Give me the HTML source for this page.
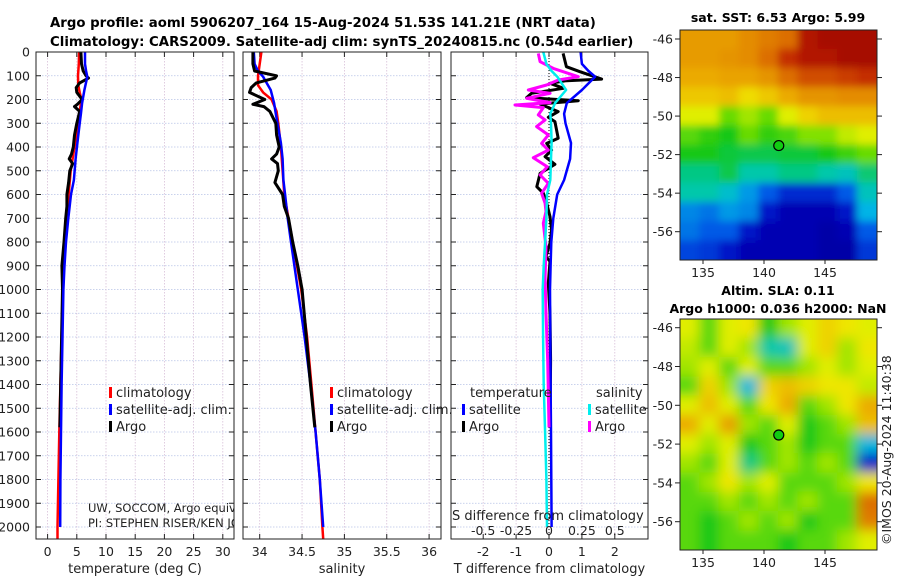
<!DOCTYPE html>
<html><head><meta charset="utf-8">
<style>
html,body{margin:0;padding:0;background:#fff;}
svg{display:block;font-family:"DejaVu Sans","Liberation Sans",sans-serif;}
</style></head>
<body>
<svg id="fig" width="900" height="580" viewBox="0 0 900 580" xmlns="http://www.w3.org/2000/svg">
<defs>
<clipPath id="c1"><rect x="36" y="52" width="198" height="487"/></clipPath>
<clipPath id="c2"><rect x="243" y="52" width="198" height="487"/></clipPath>
<clipPath id="c3"><rect x="451" y="52" width="197" height="487"/></clipPath>
<clipPath id="c4"><rect x="680" y="30" width="197" height="230"/></clipPath>
<clipPath id="c5"><rect x="680" y="319" width="197" height="231"/></clipPath>
<filter id="blur" x="-5%" y="-5%" width="110%" height="110%"><feGaussianBlur stdDeviation="6"/></filter>
<filter id="blur2" x="-5%" y="-5%" width="110%" height="110%"><feGaussianBlur stdDeviation="4"/></filter>
</defs>
<text x="50" y="27" font-size="13.3" font-weight="bold">Argo profile: aoml 5906207_164 15-Aug-2024 51.53S 141.21E (NRT data)</text>
<text x="50" y="46" font-size="13.3" font-weight="bold">Climatology: CARS2009. Satellite-adj clim: synTS_20240815.nc (0.54d earlier)</text>
<text x="778" y="22" font-size="12.5" font-weight="bold" text-anchor="middle">sat. SST: 6.53 Argo: 5.99</text>
<text x="778" y="295" font-size="12.5" font-weight="bold" text-anchor="middle">Altim. SLA: 0.11</text>
<text x="778" y="313" font-size="12.5" font-weight="bold" text-anchor="middle">Argo h1000: 0.036 h2000: NaN</text>
<text transform="translate(891,545) rotate(-90)" font-size="12.5" fill="#222">©IMOS 20-Aug-2024 11:40:38</text>
<g id="root"></g>
</svg>
<script>
// ---- Data ----
const depthTicks = [0,100,200,300,400,500,600,700,800,900,1000,1100,1200,1300,1400,1500,1600,1700,1800,1900,2000];
const tempTicks = [0,5,10,15,20,25,30];
const salTicks = [34,34.5,35,35.5,36];
const tdTicks = [-2,-1,0,1,2];
const sdTicks = [-0.5,-0.25,0,0.25,0.5];
const sdTickLabels = ['-0.5','-0.25','0','0.25','0.5'];

const climDepth = [0,50,100,140,170,200,250,300,400,500,600,700,800,900,1000,1200,1400,1600,1800,2000,2050];
const climTemp  = [5.4,5.35,5.2,5.25,5.5,5.8,5.5,5.2,4.6,3.95,3.6,3.27,3.0,2.8,2.6,2.4,2.2,2.0,1.85,1.7,1.7];
const climSal   = [34.02,34.0,33.98,33.98,34.04,34.14,34.2,34.22,34.25,34.27,34.29,34.34,34.39,34.44,34.49,34.56,34.61,34.66,34.71,34.74,34.75];

const satDepth = [0,50,80,104,160,215,260,300,383,450,539,600,700,800,900,1000,1200,1400,1600,1800,2000];
const satTemp  = [6.4,6.4,6.6,6.8,6.3,5.9,5.7,5.5,5.1,4.8,4.5,4.0,3.55,3.15,2.9,2.7,2.55,2.4,2.3,2.2,2.15];
const satSal   = [33.93,33.94,33.98,34.04,34.13,34.17,34.19,34.21,34.25,34.27,34.28,34.30,34.33,34.37,34.41,34.45,34.53,34.60,34.66,34.71,34.75];
const satTd    = [0.96,1.0,1.2,1.4,1.0,0.54,0.46,0.5,0.67,0.64,0.46,0.25,0.13,0.07,0.05,0.03,0.04,0.05,0.06,0.07,0.08];
const satSd    = [-0.043,-0.02,0.02,0.063,0.13,0.046,0.01,0.015,0.02,0.015,0.01,-0.015,-0.02,-0.03,-0.04,-0.048,-0.045,-0.04,-0.03,-0.02,-0.015];

const argoTDepth = [0,50,80,100,110,130,150,170,200,220,230,250,300,350,400,430,450,470,500,550,600,650,700,800,900,1000,1200,1400,1580];
const argoTemp   = [5.7,5.8,6.1,6.6,7.0,5.5,4.9,5.0,5.9,5.1,4.6,5.5,5.0,4.6,4.4,4.1,3.7,4.3,3.8,3.6,3.3,3.3,3.1,2.8,2.45,2.55,2.4,2.25,2.1];
const argoSal    = [33.92,33.92,33.94,34.2,34.18,33.96,33.9,33.88,34.06,33.92,34.05,34.12,34.19,34.2,34.23,34.2,34.14,34.21,34.22,34.18,34.27,34.29,34.34,34.39,34.45,34.5,34.55,34.6,34.65];

const diffDepth = [6,62,83,114,121,132,153,174,192,205,219,237,251,275,293,363,385,413,441,473,511,567,595,637,693,749,805,861,882,974,1101,1300,1580];
const argoTd    = [0.43,0.53,0.94,1.6,0.53,0.03,0.44,-0.53,-0.68,0.89,-0.27,0.03,0.28,-0.02,0.18,0.28,-0.07,0.08,-0.12,0.18,-0.27,-0.37,-0.17,-0.07,0.03,0.08,0.03,-0.09,0.03,-0.02,0.03,0.05,0.03];
const sdDepth  = [6,41,69,104,118,139,160,174,195,213,223,234,265,286,314,349,385,413,445,483,518,553,595,637,672,721,820,946,1101,1300,1580];
const argoSd   = [-0.081,-0.068,0.033,0.223,0.071,-0.018,-0.157,0.008,-0.17,0.008,-0.258,-0.043,-0.081,-0.03,-0.094,-0.005,-0.056,-0.005,-0.119,-0.013,-0.068,-0.005,-0.056,-0.03,-0.023,-0.043,-0.023,-0.03,-0.023,-0.01,0.0];

const mapCols = [134,135.6,137.2,138.8,140.4,142,143.6,145.2,146.8,148.4];
const sstGrid = [
[.74,.74,.74,.76,.78,.8,.93,.96,.96,.96],
[.74,.74,.75,.76,.8,.88,.93,.93,.96,.96],
[.72,.72,.73,.73,.75,.8,.84,.84,.86,.88],
[.69,.69,.7,.67,.69,.72,.75,.75,.76,.76],
[.64,.64,.56,.6,.56,.64,.68,.7,.7,.7],
[.55,.52,.5,.56,.52,.54,.58,.58,.62,.64],
[.5,.5,.48,.47,.47,.48,.48,.5,.53,.56],
[.44,.44,.47,.42,.42,.44,.44,.42,.4,.45],
[.42,.42,.38,.32,.25,.18,.18,.18,.25,.4],
[.3,.28,.32,.3,.15,.1,.1,.1,.15,.35],
[.28,.25,.25,.15,.1,.1,.1,.08,.1,.25],
[.22,.2,.15,.1,.1,.1,.1,.08,.08,.2]];
const slaGrid = [
[.64,.55,.64,.66,.5,.6,.64,.68,.66,.64],
[.62,.55,.64,.6,.42,.4,.64,.68,.6,.66],
[.6,.64,.55,.64,.55,.55,.6,.64,.6,.64],
[.55,.68,.6,.36,.68,.7,.68,.66,.66,.62],
[.64,.7,.64,.55,.66,.72,.55,.6,.66,.72],
[.72,.64,.74,.6,.55,.64,.5,.55,.6,.7],
[.64,.6,.64,.5,.55,.6,.5,.55,.55,.36],
[.6,.55,.64,.44,.55,.6,.55,.6,.55,.15],
[.55,.6,.66,.6,.64,.55,.55,.55,.6,.66],
[.55,.55,.6,.55,.6,.55,.6,.55,.55,.8],
[.55,.5,.55,.6,.55,.6,.5,.55,.55,.78],
[.55,.5,.55,.55,.55,.5,.55,.55,.6,.64]];
const latTicks = [-46,-48,-50,-52,-54,-56];
const lonTicks = [135,140,145];
const argoLon = 141.21, argoLat = -51.53;

// ---- Axes ----
const yD = d => 52 + d*0.2375;
const xT = t => 47.6 + t*5.84;
const xS = s => 259.7 + (s-34)*84.7;
const xTd = v => 549 + v*32.9;
const xSd = v => 549 + v*131.6;
const mX = lon => 703 + (lon-135)*12.2;
const m1Y = lat => 39 + (-46-lat)*19.27;
const m2Y = lat => 327.7 + (-46-lat)*19.4;

const NS='http://www.w3.org/2000/svg';
const root=document.getElementById('root');
function mk(tag, attrs, parent){const e=document.createElementNS(NS,tag);for(const k in attrs)e.setAttribute(k,attrs[k]);(parent||root).appendChild(e);return e;}
function txt(x,y,s,size,anchor,parent){const t=mk('text',{x:x,y:y,'font-size':size,'text-anchor':anchor||'start',fill:'#222'},parent);t.textContent=s;return t;}
const cmapStops=[[0,[0,0,120]],[0.12,[0,0,190]],[0.25,[0,90,230]],[0.35,[0,180,230]],[0.42,[0,200,170]],[0.5,[20,200,20]],[0.58,[130,225,0]],[0.65,[240,240,0]],[0.72,[235,170,0]],[0.8,[220,110,0]],[0.9,[190,30,0]],[1,[150,0,0]]];
function cmap(v){
  for(let i=1;i<cmapStops.length;i++){
    if(v<=cmapStops[i][0]){
      const [a,ca]=cmapStops[i-1],[b,cb]=cmapStops[i];const f=(v-a)/(b-a);
      return 'rgb('+ca.map((c,k)=>Math.round(c+(cb[k]-c)*f)).join(',')+')';
    }
  }
  return 'rgb(150,0,0)';
}

const panels=[{x:36,w:198,clip:'c1',name:'temperature'},{x:243,w:198,clip:'c2',name:'salinity'},{x:451,w:197,clip:'c3',name:'difference'}];
const xTickSets=[tempTicks.map(t=>[xT(t),String(t)]), salTicks.map(t=>[xS(t),String(t)]), tdTicks.map(t=>[xTd(t),String(t)])];
const xTitles=['temperature (deg C)','salinity','T difference from climatology'];

panels.forEach((p,i)=>{
  const g=mk('g',{});
  
  
  depthTicks.forEach(d=>{
    const l=mk('line',{x1:p.x,x2:p.x+p.w,y1:yD(d),y2:yD(d),stroke:'#b8c4e6','stroke-width':0.8,'stroke-dasharray':'1.5,1.5'},g);
    
    
    mk('line',{x1:p.x,x2:p.x+5,y1:yD(d),y2:yD(d),stroke:'#222'},g);
    mk('line',{x1:p.x+p.w-5,x2:p.x+p.w,y1:yD(d),y2:yD(d),stroke:'#222'},g);
  });
  xTickSets[i].forEach(([x,lab])=>{
    const l=mk('line',{x1:x,x2:x,y1:52,y2:539,stroke:'#d8c0d8','stroke-width':0.8,'stroke-dasharray':'1.5,1.5'},g);
    
    
    mk('line',{x1:x,x2:x,y1:52,y2:57,stroke:'#222'},g);
    mk('line',{x1:x,x2:x,y1:534,y2:539,stroke:'#222'},g);
    const t=txt(x,556,lab,12.5,'middle',g);
    
    
  });
  const tt=txt(p.x+p.w/2,573,xTitles[i],13,'middle',g);
  
  
});
depthTicks.forEach(d=>{
  const t=txt(30,yD(d)+4.5,String(d),12.5,'end');
  
  
});

function line(xs,ds,xf,color,w,clip,name){
  const pts=xs.map((v,k)=>xf(v).toFixed(1)+','+yD(ds[k]).toFixed(1)).join(' ');
  const p=mk('polyline',{points:pts,fill:'none',stroke:color,'stroke-width':w,'stroke-linejoin':'round','clip-path':'url(#'+clip+')'});
  
  
}
line(climTemp,climDepth,xT,'#f00',2.5,'c1','climatology-temp-line');
line(argoTemp,argoTDepth,xT,'#000',3,'c1','argo-temp-line');
line(satTemp,satDepth,xT,'#00f',2.5,'c1','satellite-temp-line');
line(climSal,climDepth,xS,'#f00',2.5,'c2','climatology-salinity-line');
line(satSal,satDepth,xS,'#00f',2.5,'c2','satellite-salinity-line');
line(argoSal,argoTDepth,xS,'#000',3,'c2','argo-salinity-line');
const zl=mk('line',{x1:549,x2:549,y1:52,y2:539,stroke:'#000','stroke-width':1,'stroke-dasharray':'1,2'});


line(argoTd,diffDepth,xTd,'#000',3,'c3','argo-tdiff-line');
line(satTd,satDepth,xTd,'#00f',2.5,'c3','satellite-tdiff-line');
line(argoSd,sdDepth,xSd,'#f0f',3,'c3','argo-sdiff-line');
line(satSd,satDepth,xSd,'#0ee',2.5,'c3','satellite-sdiff-line');

panels.forEach(p=>{
  const r=mk('rect',{x:p.x,y:52,width:p.w,height:487,fill:'none',stroke:'#222','stroke-width':1});
  
  
});

function legend(x,y,label,color,name){
  const m=mk('rect',{x:x,y:y-10,width:3,height:11,fill:color});
  
  
  const t=txt(x+7,y,label,13,'start');
  
  
}
legend(109,397,'climatology','#f00','legend-climatology');
legend(109,414,'satellite-adj. clim.','#00f','legend-satellite');
legend(109,431,'Argo','#000','legend-argo');
legend(330,397,'climatology','#f00','legend-climatology-sal');
legend(330,414,'satellite-adj. clim.','#00f','legend-satellite-sal');
legend(330,431,'Argo','#000','legend-argo-sal');
const lt=txt(470,397,'temperature',13,'start');  
const ls=txt(596,397,'salinity',13,'start');  
legend(462,414,'satellite','#00f','legend-t-satellite');
legend(462,431,'Argo','#000','legend-t-argo');
legend(588,414,'satellite','#0ee','legend-s-satellite');
legend(588,431,'Argo','#f0f','legend-s-argo');

const g1=mk('g',{'clip-path':'url(#c1)'});
const n1=txt(88,512,'UW, SOCCOM, Argo equivalent',11.5,'start',g1);  
const n2=txt(88,527,'PI: STEPHEN RISER/KEN JOHNSON',11.5,'start',g1);  

const sdt=txt(452,520,'S difference from climatology',13,'start');  
sdTicks.forEach((v,k)=>{
  const t=txt(xSd(v),535,sdTickLabels[k],12.5,'middle');
  
  
});

function drawMap(grid,top,h,clip,blur,name,yf){
  const g=mk('g',{'clip-path':'url(#'+clip+')'});
  
  
  const inner=mk('g',{filter:'url(#'+blur+')'},g);
  const cw=197/mapCols.length, ch=h/grid.length;
  grid.forEach((row,r)=>row.forEach((v,c)=>{
    const ex=(c===0?12:0), ew=(c===row.length-1?12:0), ey=(r===0?12:0), eh=(r===grid.length-1?12:0);
    const cell=mk('rect',{x:(680+c*cw-0.5-ex).toFixed(1),y:(top+r*ch-0.5-ey).toFixed(1),width:(cw+1+ex+ew).toFixed(1),height:(ch+1+ey+eh).toFixed(1),fill:cmap(v)},inner);
    
    
  }));
  const fr=mk('rect',{x:680,y:top,width:197,height:h,fill:'none',stroke:'#222','stroke-width':1});
  
  
  latTicks.forEach(lat=>{
    const y=yf(lat);
    const t=txt(673,y+4.5,String(lat),12.5,'end');
    
    
    mk('line',{x1:877,x2:882,y1:y,y2:y,stroke:'#222'});
    mk('line',{x1:675,x2:680,y1:y,y2:y,stroke:'#222'});
  });
  lonTicks.forEach(lon=>{
    const x=mX(lon);
    const t=txt(x,top+h+17,String(lon),12.5,'middle');
    
    
    mk('line',{x1:x,x2:x,y1:top+h,y2:top+h+4,stroke:'#222'});
  });
  const ci=mk('circle',{cx:mX(argoLon),cy:yf(argoLat),r:5,fill:'#1c1',stroke:'#000','stroke-width':1.2});
  
  
}
drawMap(sstGrid,30,230,'c4','blur2','sst-map',m1Y);
drawMap(slaGrid,319,231,'c5','blur','sla-map',m2Y);
</script>
</body></html>
